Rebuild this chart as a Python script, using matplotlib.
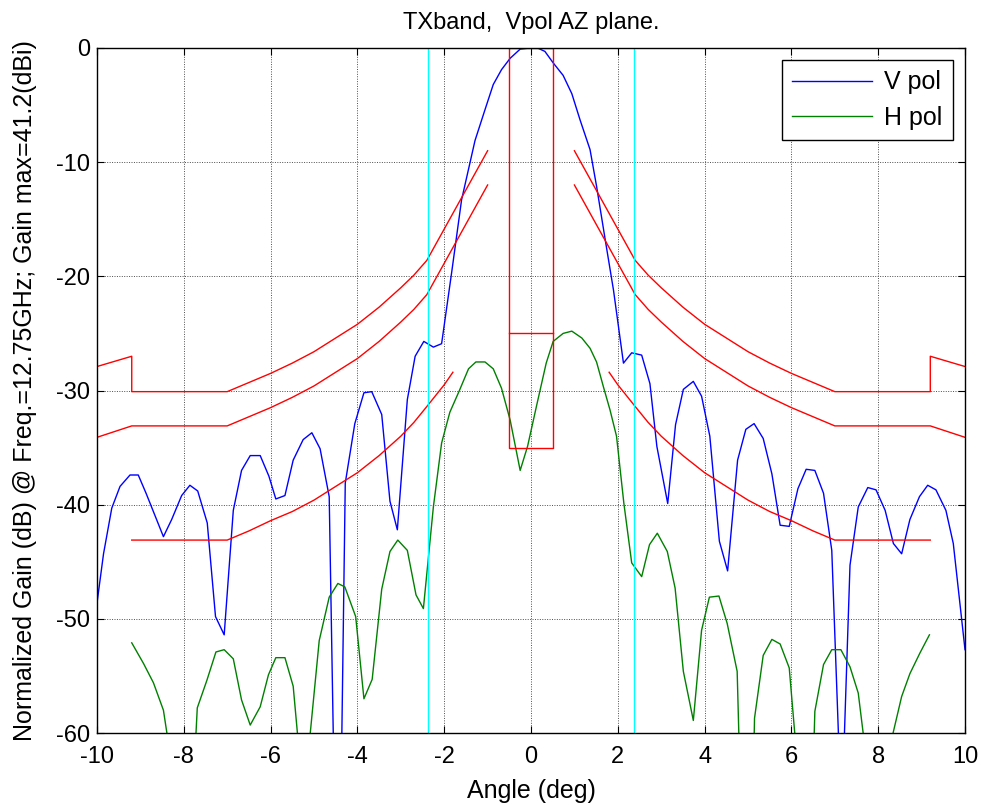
import numpy as np
import matplotlib
matplotlib.use('Agg')
from matplotlib import pyplot as plt

plt.rcParams['font.family'] = ['Liberation Sans', 'DejaVu Sans']
plt.rcParams['axes.unicode_minus'] = False

# V pol pattern (blue); -66 = below the axis
v_ang = [-10.0, -9.85, -9.66, -9.47, -9.24, -9.05, -8.87, -8.47, -8.28, -8.05,
         -7.86, -7.68, -7.46, -7.27, -7.07, -6.86, -6.67, -6.47, -6.24, -6.04,
         -5.88, -5.67, -5.48, -5.25, -5.05, -4.86, -4.65, -4.53, -4.38, -4.28,
         -4.06, -3.85, -3.67, -3.44, -3.25, -3.08, -2.85, -2.67, -2.47, -2.25,
         -2.06, -1.83, -1.60, -1.29, -1.06, -0.87, -0.68, -0.48, -0.25, -0.02,
         0.15, 0.32, 0.51, 0.74, 0.94, 1.13, 1.36, 1.51, 1.71, 1.90,
         2.13, 2.32, 2.55, 2.74, 2.90, 3.15, 3.33, 3.51, 3.74, 3.93,
         4.12, 4.34, 4.53, 4.76, 4.95, 5.14, 5.35, 5.55, 5.74, 5.95,
         6.15, 6.34, 6.54, 6.74, 6.93, 7.14, 7.17, 7.35, 7.54, 7.76,
         7.95, 8.16, 8.35, 8.54, 8.73, 8.95, 9.14, 9.33, 9.56, 9.73, 10.0]
v_gain = [-48.6, -44.3, -40.3, -38.4, -37.4, -37.4, -39.0, -42.8, -41.3, -39.2,
          -38.3, -38.8, -41.6, -49.8, -51.4, -40.5, -37.0, -35.7, -35.7, -37.5,
          -39.5, -39.2, -36.1, -34.3, -33.7, -35.1, -39.3, -66, -66, -38.1,
          -32.9, -30.2, -30.1, -32.1, -39.7, -42.2, -30.8, -27.0, -25.7, -26.2,
          -25.9, -19.7, -13.3, -8.1, -5.4, -3.2, -1.9, -0.9, -0.1, 0.0,
          0.0, -0.3, -1.3, -2.4, -4.0, -6.3, -8.9, -12.1, -16.8, -21.2,
          -27.6, -26.7, -26.9, -29.4, -34.9, -39.9, -33.0, -29.9, -29.2, -30.5,
          -34.0, -43.2, -45.8, -36.1, -33.4, -32.9, -34.2, -37.3, -41.8, -41.9,
          -38.6, -36.9, -37.0, -39.0, -44.0, -66, -66, -45.3, -40.2, -38.5,
          -38.7, -40.5, -43.4, -44.3, -41.3, -39.3, -38.3, -38.7, -40.5, -43.4, -52.7]

# H pol pattern (green)
h_ang = [-9.20, -8.93, -8.70, -8.47, -8.15, -7.80, -7.69, -7.47, -7.26, -7.07,
         -6.86, -6.67, -6.47, -6.24, -6.05, -5.88, -5.67, -5.48, -5.24, -4.88,
         -4.65, -4.45, -4.29, -4.04, -3.85, -3.66, -3.44, -3.25, -3.07, -2.85,
         -2.65, -2.48, -2.25, -2.06, -1.87, -1.65, -1.44, -1.27, -1.06, -0.87,
         -0.68, -0.48, -0.25, -0.08, 0.13, 0.35, 0.51, 0.74, 0.94, 1.17,
         1.36, 1.51, 1.67, 1.82, 1.97, 2.14, 2.32, 2.55, 2.73, 2.91,
         3.14, 3.32, 3.51, 3.74, 3.93, 4.11, 4.33, 4.52, 4.75, 4.83,
         5.11, 5.15, 5.35, 5.55, 5.74, 5.95, 6.21, 6.48, 6.54, 6.74,
         6.93, 7.14, 7.35, 7.54, 7.75, 8.00, 8.33, 8.54, 8.73, 8.96, 9.18]
h_gain = [-52.1, -53.9, -55.6, -58.0, -66, -66, -57.8, -55.4, -52.9, -52.7,
          -53.5, -57.1, -59.3, -57.7, -54.9, -53.4, -53.4, -55.9, -66, -51.9,
          -48.1, -46.9, -47.2, -49.8, -57.0, -55.3, -47.4, -44.1, -43.1, -44.0,
          -47.9, -49.1, -40.2, -34.6, -31.9, -30.0, -28.1, -27.5, -27.5, -28.1,
          -29.8, -32.6, -37.0, -34.9, -31.3, -27.6, -25.7, -25.0, -24.8, -25.4,
          -26.3, -27.5, -29.7, -31.7, -34.0, -39.9, -45.1, -46.3, -43.5, -42.5,
          -44.1, -47.3, -54.6, -58.9, -51.0, -48.1, -48.0, -50.4, -54.6, -66,
          -66, -58.7, -53.2, -51.8, -52.2, -54.3, -66, -66, -58.1, -54.0,
          -52.7, -52.7, -54.2, -56.5, -63, -68, -60.2, -56.8, -54.8, -53.0, -51.4]

# envelope masks (red), right half; left half is the mirror image
up_ang = [1.0, 2.4, 2.7, 3.0, 3.5, 4.0, 4.5, 5.0, 5.5, 6.0, 6.5, 7.0, 9.2, 9.2, 10.0]
up_gain = [-9.0, -18.6, -19.9, -21.0, -22.7, -24.2, -25.4, -26.6, -27.6, -28.5,
           -29.3, -30.1, -30.1, -27.0, -27.9]
mid_ang = [1.0, 2.4, 2.7, 3.0, 3.5, 4.0, 4.5, 5.0, 5.5, 6.0, 6.5, 7.0, 9.2, 9.6, 10.0]
mid_gain = [-12.0, -21.6, -22.9, -24.0, -25.7, -27.2, -28.4, -29.6, -30.6, -31.5,
            -32.3, -33.1, -33.1, -33.6, -34.1]
low_ang = [1.8, 2.0, 2.4, 2.7, 3.0, 3.5, 4.0, 4.5, 5.0, 5.5, 6.0, 6.5, 7.0, 9.2]
low_gain = [-28.4, -29.5, -31.4, -32.8, -34.0, -35.7, -37.2, -38.4, -39.6, -40.6,
            -41.4, -42.3, -43.1, -43.1]

# main beam box
box_x = [-0.5, -0.5, 0.5, 0.5, -0.5]
box_y = [0, -35, -35, 0, 0]
box_mid = -25
cyan_ang = 2.37

fig = plt.figure(figsize=(9.83, 8.05), dpi=100)
ax = fig.add_axes([0.0987, 0.0894, 0.8830, 0.8510])

ax.plot(v_ang, v_gain, color='blue', lw=1, label='V pol')
ax.plot(h_ang, h_gain, color='green', lw=1, label='H pol')

for a, g in [(up_ang, up_gain), (mid_ang, mid_gain), (low_ang, low_gain)]:
    a = np.array(a)
    ax.plot(a, g, color='red', lw=1)
    ax.plot(-a, g, color='red', lw=1)

ax.plot(box_x, box_y, color='red', lw=1)
ax.plot([-0.5, 0.5], [box_mid, box_mid], color='red', lw=1)

ax.axvline(-cyan_ang, color='cyan', lw=1)
ax.axvline(cyan_ang, color='cyan', lw=1)

ax.set_xlim(-10, 10)
ax.set_ylim(-60, 0)
ax.set_xticks(np.arange(-10, 11, 2))
ax.set_yticks(np.arange(-60, 1, 10))
ax.grid(True, color='0.3', linestyle=(0, (1, 1.5)), lw=0.7)
ax.tick_params(direction='in', top=True, right=True, length=5, labelsize=17)
ax.tick_params(axis='x', pad=9)
ax.tick_params(axis='y', pad=5)
for s in ax.spines.values():
    s.set_linewidth(1)

ax.set_title('TXband,  Vpol AZ plane.', fontsize=17, pad=14)
ax.set_xlabel('Angle (deg)', fontsize=18, labelpad=8)
ax.set_ylabel('Normalized Gain (dB) @ Freq.=12.75GHz; Gain max=41.2(dBi)', fontsize=18, labelpad=14)

leg = ax.legend(loc='upper right', fontsize=18, fancybox=False, framealpha=1,
                edgecolor='black', handlelength=3.2, handletextpad=0.5,
                labelspacing=0.45, borderaxespad=0.5)
leg.get_frame().set_linewidth(1)

fig.savefig('out.png', dpi=100)
